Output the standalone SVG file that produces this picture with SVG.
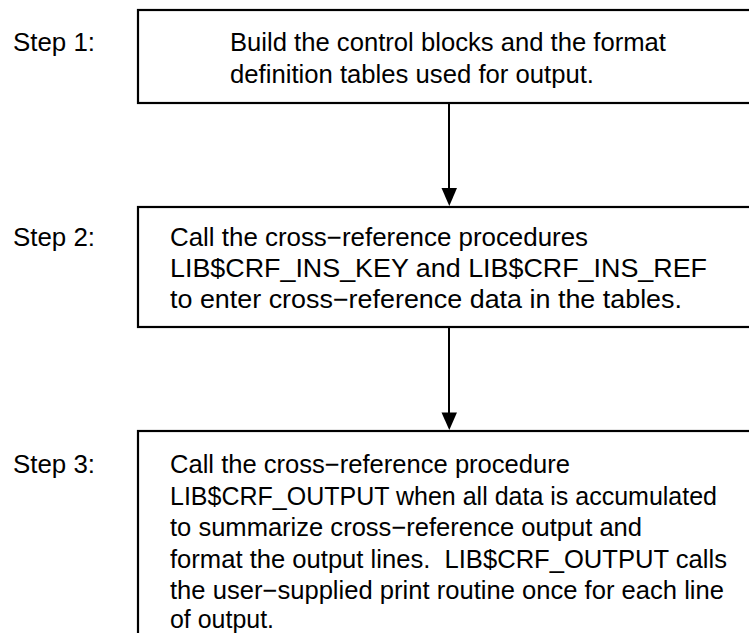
<svg xmlns="http://www.w3.org/2000/svg" width="749" height="633" viewBox="0 0 749 633">
<style>
  text { font-family: "Liberation Sans", Arial, Helvetica, sans-serif; font-size: 25.5px; fill: #000; }
  .box { fill: #fff; stroke: #000; stroke-width: 2.2; }
  .conn { stroke: #000; stroke-width: 2; fill: none; }
  .head { fill: #000; stroke: none; }
</style>
<rect width="749" height="633" fill="#fff"/>
<g id="step1">
  <text x="13" y="51" textLength="82" lengthAdjust="spacingAndGlyphs">Step 1:</text>
  <rect class="box" x="138" y="10" width="640" height="93"/>
  <text x="230" y="51" textLength="436" lengthAdjust="spacingAndGlyphs">Build the control blocks and the format</text>
  <text x="230" y="83" textLength="364" lengthAdjust="spacingAndGlyphs">definition tables used for output.</text>
</g>
<g id="step2">
  <text x="13" y="246" textLength="82" lengthAdjust="spacingAndGlyphs">Step 2:</text>
  <rect class="box" x="138" y="207" width="640" height="120"/>
  <text x="170" y="246" textLength="418" lengthAdjust="spacingAndGlyphs">Call the cross−reference procedures</text>
  <text x="170" y="277" textLength="537" lengthAdjust="spacingAndGlyphs">LIB$CRF_INS_KEY and LIB$CRF_INS_REF</text>
  <text x="170" y="308" textLength="512" lengthAdjust="spacingAndGlyphs">to enter cross−reference data in the tables.</text>
</g>
<g id="step3">
  <text x="13" y="473" textLength="82" lengthAdjust="spacingAndGlyphs">Step 3:</text>
  <rect class="box" x="138" y="431" width="640" height="240"/>
  <text x="170" y="473" textLength="400" lengthAdjust="spacingAndGlyphs">Call the cross−reference procedure</text>
  <text x="170" y="505" textLength="547" lengthAdjust="spacingAndGlyphs">LIB$CRF_OUTPUT when all data is accumulated</text>
  <text x="170" y="536" textLength="472" lengthAdjust="spacingAndGlyphs">to summarize cross−reference output and</text>
  <text x="170" y="568" textLength="557" lengthAdjust="spacingAndGlyphs" xml:space="preserve">format the output lines.  LIB$CRF_OUTPUT calls</text>
  <text x="170" y="599" textLength="554" lengthAdjust="spacingAndGlyphs">the user−supplied print routine once for each line</text>
  <text x="170" y="628" textLength="104" lengthAdjust="spacingAndGlyphs">of output.</text>
</g>
<g id="connectors">
  <line class="conn" x1="449" y1="104" x2="449" y2="190"/>
  <polygon class="head" points="441.5,188 457,188 449.3,206"/>
  <line class="conn" x1="449" y1="328" x2="449" y2="414"/>
  <polygon class="head" points="441.5,412.5 457,412.5 449.3,430"/>
</g>
</svg>
